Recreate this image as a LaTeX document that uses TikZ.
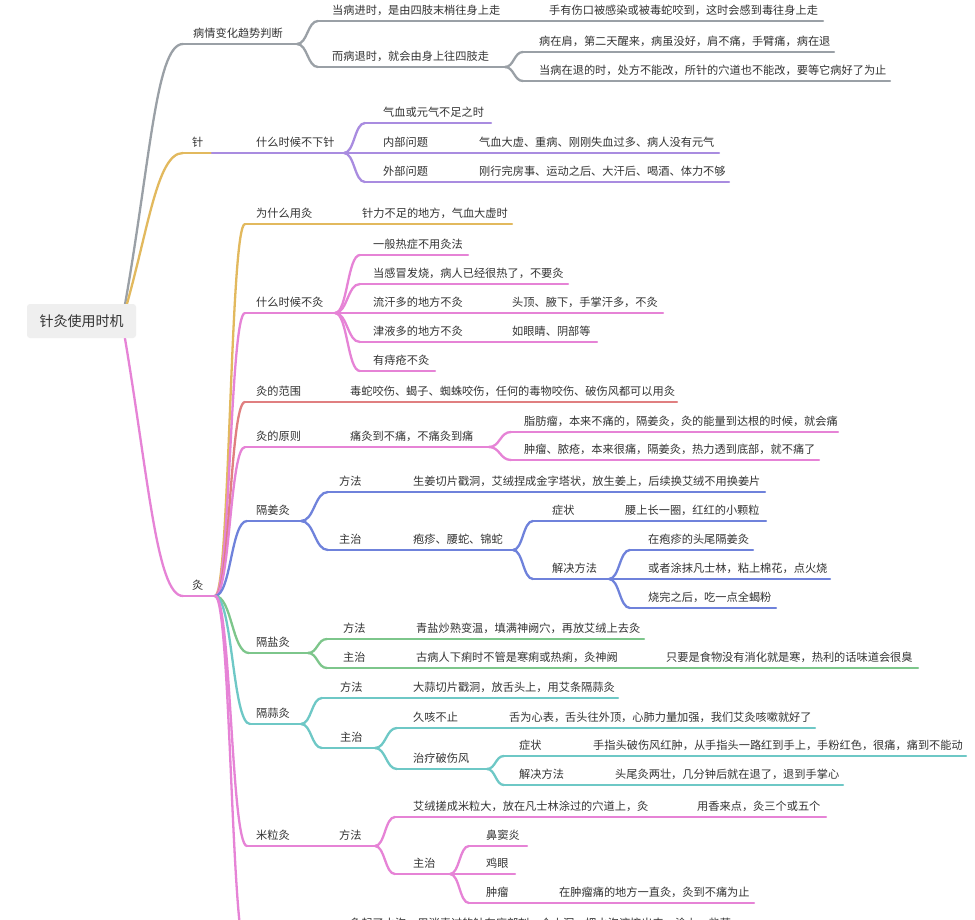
\documentclass[tikz,border=0pt]{standalone}
\usepackage{fontspec}
\setmainfont{Noto Sans CJK SC}
\usetikzlibrary{calc}
\definecolor{cgray}{HTML}{9AA0A6}
\definecolor{cgold}{HTML}{E2B95E}
\definecolor{cpurple}{HTML}{A98CE0}
\definecolor{cpink}{HTML}{E683D6}
\definecolor{cred}{HTML}{E07F80}
\definecolor{cblue}{HTML}{6F82DB}
\definecolor{cgreen}{HTML}{7DC68B}
\definecolor{cteal}{HTML}{6EC8C6}
\definecolor{rootfill}{HTML}{EFEFEF}
\definecolor{ctext}{HTML}{333333}
\tikzset{
  conn/.style={line width=2.3pt, line cap=round},
  lbl/.style={inner sep=0pt, font=\fontsize{11.2}{13}\selectfont, text=ctext},
  branch/.style={to path={let \p1=(\tikztostart), \p2=(\tikztotarget) in
    .. controls ({0.5*(\x1+\x2)},\y1) and ({0.5*(\x1+\x2)},\y2) .. (\tikztotarget)}},
}
\newcommand\mmn[7]{%
  \coordinate (#1-s) at (#3,#4);
  \coordinate (#1-e) at (#6,#4);
  \node[lbl,anchor=west] (#1) at (#5,#4-11) {#7};
  \draw[conn,#2] (#1-s) -- (#1-e);
}
\begin{document}
\begin{tikzpicture}[x=1pt,y=-1pt]
\useasboundingbox (0,0) rectangle (975,920);
\clip (0,0) rectangle (975,920);
\fill[white] (0,0) rectangle (975,920);

% ---------- level 1 ----------
\mmn{A}{cgray}{183}{44}{193}{297}{病情变化趋势判断}
\mmn{B}{cgold}{183}{153}{192}{212}{针}
\mmn{C}{cpink}{183}{596}{192}{215}{灸}

% ---------- 病情变化趋势判断 ----------
\mmn{A1}{cgray}{318}{21}{332}{520}{当病进时，是由四肢末梢往身上走}
\mmn{A1a}{cgray}{520}{21}{549}{823}{手有伤口被感染或被毒蛇咬到，这时会感到毒往身上走}
\mmn{A2}{cgray}{318}{67}{332}{505}{而病退时，就会由身上往四肢走}
\mmn{A2a}{cgray}{523}{52}{539}{834}{病在肩，第二天醒来，病虽没好，肩不痛，手臂痛，病在退}
\mmn{A2b}{cgray}{523}{81}{539}{890}{当病在退的时，处方不能改，所针的穴道也不能改，要等它病好了为止}
\draw[conn,cgray] (A-e) to[branch] (A1-s);
\draw[conn,cgray] (A-e) to[branch] (A2-s);
\draw[conn,cgray] (A2-e) to[branch] (A2a-s);
\draw[conn,cgray] (A2-e) to[branch] (A2b-s);

% ---------- 针 ----------
\mmn{B1}{cpurple}{212}{153}{256}{344}{什么时候不下针}
\mmn{B1a}{cpurple}{365}{123}{383}{491}{气血或元气不足之时}
\mmn{B1b}{cpurple}{365}{153}{383}{440}{内部问题}
\mmn{B1b1}{cpurple}{440}{153}{479}{719}{气血大虚、重病、刚刚失血过多、病人没有元气}
\mmn{B1c}{cpurple}{365}{182}{383}{440}{外部问题}
\mmn{B1c1}{cpurple}{440}{182}{479}{729}{刚行完房事、运动之后、大汗后、喝酒、体力不够}
\draw[conn,cpurple] (B1-e) to[branch] (B1a-s);
\draw[conn,cpurple] (B1-e) to[branch] (B1b-s);
\draw[conn,cpurple] (B1-e) to[branch] (B1c-s);

% ---------- 灸 ----------
\mmn{C1}{cgold}{245}{224}{256}{340}{为什么用灸}
\mmn{C1a}{cgold}{340}{224}{362}{512}{针力不足的地方，气血大虚时}

\mmn{C2}{cpink}{245}{313}{256}{335}{什么时候不灸}
\mmn{C2a}{cpink}{360}{255}{373}{468}{一般热症不用灸法}
\mmn{C2b}{cpink}{360}{284}{373}{568}{当感冒发烧，病人已经很热了，不要灸}
\mmn{C2c}{cpink}{360}{313}{373}{500}{流汗多的地方不灸}
\mmn{C2c1}{cpink}{500}{313}{512}{663}{头顶、腋下，手掌汗多，不灸}
\mmn{C2d}{cpink}{360}{342}{373}{500}{津液多的地方不灸}
\mmn{C2d1}{cpink}{500}{342}{512}{597}{如眼睛、阴部等}
\mmn{C2e}{cpink}{360}{371}{373}{435}{有痔疮不灸}
\foreach \k in {a,b,c,d,e} {\draw[conn,cpink] (C2-e) to[branch] (C2\k-s);}

\mmn{C3}{cred}{245}{402}{256}{340}{灸的范围}
\mmn{C3a}{cred}{340}{402}{350}{677}{毒蛇咬伤、蝎子、蜘蛛咬伤，任何的毒物咬伤、破伤风都可以用灸}

\mmn{C4}{cpink}{245}{447}{256}{340}{灸的原则}
\mmn{C4a}{cpink}{340}{447}{350}{489}{痛灸到不痛，不痛灸到痛}
\mmn{C4a1}{cpink}{511}{432}{524}{838}{脂肪瘤，本来不痛的，隔姜灸，灸的能量到达根的时候，就会痛}
\mmn{C4a2}{cpink}{511}{460}{524}{819}{肿瘤、脓疮，本来很痛，隔姜灸，热力透到底部，就不痛了}
\draw[conn,cpink] (C4a-e) to[branch] (C4a1-s);
\draw[conn,cpink] (C4a-e) to[branch] (C4a2-s);

\mmn{C5}{cblue}{247}{521}{256}{301}{隔姜灸}
\mmn{C5a}{cblue}{328}{492}{339}{400}{方法}
\mmn{C5a1}{cblue}{400}{492}{413}{765}{生姜切片戳洞，艾绒捏成金字塔状，放生姜上，后续换艾绒不用换姜片}
\mmn{C5b}{cblue}{328}{550}{339}{400}{主治}
\mmn{C5b1}{cblue}{400}{550}{413}{513}{疱疹、腰蛇、锦蛇}
\mmn{C5b1a}{cblue}{533}{521}{552}{610}{症状}
\mmn{C5b1a1}{cblue}{610}{521}{625}{766}{腰上长一圈，红红的小颗粒}
\mmn{C5b1b}{cblue}{533}{579}{552}{609}{解决方法}
\mmn{C5b1b1}{cblue}{630}{550}{648}{753}{在疱疹的头尾隔姜灸}
\mmn{C5b1b2}{cblue}{630}{579}{648}{830}{或者涂抹凡士林，粘上棉花，点火烧}
\mmn{C5b1b3}{cblue}{630}{608}{648}{776}{烧完之后，吃一点全蝎粉}
\draw[conn,cblue] (C5-e) to[branch] (C5a-s);
\draw[conn,cblue] (C5-e) to[branch] (C5b-s);
\draw[conn,cblue] (C5b1-e) to[branch] (C5b1a-s);
\draw[conn,cblue] (C5b1-e) to[branch] (C5b1b-s);
\draw[conn,cblue] (C5b1b-e) to[branch] (C5b1b1-s);
\draw[conn,cblue] (C5b1b-e) to[branch] (C5b1b2-s);
\draw[conn,cblue] (C5b1b-e) to[branch] (C5b1b3-s);

\mmn{C6}{cgreen}{249}{653}{256}{308}{隔盐灸}
\mmn{C6a}{cgreen}{327}{639}{343}{400}{方法}
\mmn{C6a1}{cgreen}{400}{639}{416}{644}{青盐炒熟变温，填满神阙穴，再放艾绒上去灸}
\mmn{C6b}{cgreen}{327}{668}{343}{400}{主治}
\mmn{C6b1}{cgreen}{400}{668}{416}{640}{古病人下痢时不管是寒痢或热痢，灸神阙}
\mmn{C6b1a}{cgreen}{640}{668}{666}{918}{只要是食物没有消化就是寒，热利的话味道会很臭}
\draw[conn,cgreen] (C6-e) to[branch] (C6a-s);
\draw[conn,cgreen] (C6-e) to[branch] (C6b-s);

\mmn{C7}{cteal}{250}{724}{256}{301}{隔蒜灸}
\mmn{C7a}{cteal}{322}{698}{340}{400}{方法}
\mmn{C7a1}{cteal}{400}{698}{413}{618}{大蒜切片戳洞，放舌头上，用艾条隔蒜灸}
\mmn{C7b}{cteal}{322}{748}{340}{375}{主治}
\mmn{C7b1}{cteal}{397}{728}{413}{490}{久咳不止}
\mmn{C7b1a}{cteal}{490}{728}{509}{815}{舌为心表，舌头往外顶，心肺力量加强，我们艾灸咳嗽就好了}
\mmn{C7b2}{cteal}{397}{769}{413}{487}{治疗破伤风}
\mmn{C7b2a}{cteal}{504}{756}{519}{580}{症状}
\mmn{C7b2a1}{cteal}{580}{756}{593}{966}{手指头破伤风红肿，从手指头一路红到手上，手粉红色，很痛，痛到不能动}
\mmn{C7b2b}{cteal}{504}{785}{519}{590}{解决方法}
\mmn{C7b2b1}{cteal}{590}{785}{615}{843}{头尾灸两壮，几分钟后就在退了，退到手掌心}
\draw[conn,cteal] (C7-e) to[branch] (C7a-s);
\draw[conn,cteal] (C7-e) to[branch] (C7b-s);
\draw[conn,cteal] (C7b-e) to[branch] (C7b1-s);
\draw[conn,cteal] (C7b-e) to[branch] (C7b2-s);
\draw[conn,cteal] (C7b2-e) to[branch] (C7b2a-s);
\draw[conn,cteal] (C7b2-e) to[branch] (C7b2b-s);

\mmn{C8}{cpink}{247}{846}{256}{320}{米粒灸}
\mmn{C8a}{cpink}{320}{846}{339}{375}{方法}
\mmn{C8a1}{cpink}{395}{817}{413}{680}{艾绒搓成米粒大，放在凡士林涂过的穴道上，灸}
\mmn{C8a1a}{cpink}{680}{817}{697}{826}{用香来点，灸三个或五个}
\mmn{C8a2}{cpink}{395}{874}{413}{450}{主治}
\mmn{C8a2a}{cpink}{469}{846}{486}{527}{鼻窦炎}
\mmn{C8a2b}{cpink}{469}{874}{486}{515}{鸡眼}
\mmn{C8a2c}{cpink}{469}{903}{486}{540}{肿瘤}
\mmn{C8a2c1}{cpink}{540}{903}{559}{754}{在肿瘤痛的地方一直灸，灸到不痛为止}
\draw[conn,cpink] (C8a-e) to[branch] (C8a1-s);
\draw[conn,cpink] (C8a-e) to[branch] (C8a2-s);
\draw[conn,cpink] (C8a2-e) to[branch] (C8a2a-s);
\draw[conn,cpink] (C8a2-e) to[branch] (C8a2b-s);
\draw[conn,cpink] (C8a2-e) to[branch] (C8a2c-s);

% cut-off node at the bottom
\coordinate (C9-s) at (247,955);
\node[lbl,anchor=west] (C9t) at (350,923) {灸起了水泡，用消毒过的针在底部刺一个小洞，把水泡液挤出来，涂上一些药};

\draw[conn,cgold] (C-e) to[branch] (C1-s);
\draw[conn,cpink] (C-e) to[branch] (C2-s);
\draw[conn,cred] (C-e) to[branch] (C3-s);
\draw[conn,cpink] (C-e) to[branch] (C4-s);
\draw[conn,cblue] (C-e) to[branch] (C5-s);
\draw[conn,cgreen] (C-e) to[branch] (C6-s);
\draw[conn,cteal] (C-e) to[branch] (C7-s);
\draw[conn,cpink] (C-e) to[branch] (C8-s);
\draw[conn,cpink] (C-e) to[branch] (C9-s);

% ---------- root ----------
\coordinate (rc) at (122,321);
\draw[conn,cgray] (rc) .. controls (150,170) and (155,44) .. (A-s);
\draw[conn,cgold] (rc) .. controls (148,235) and (156,153) .. (B-s);
\draw[conn,cpink] (rc) .. controls (148,470) and (156,596) .. (C-s);
\node[fill=rootfill, rounded corners=3pt, minimum width=109pt, minimum height=34pt,
      inner sep=0pt, font=\fontsize{14}{16}\selectfont, text=ctext] (root) at (81.5,321) {针灸使用时机};
\end{tikzpicture}
\end{document}
